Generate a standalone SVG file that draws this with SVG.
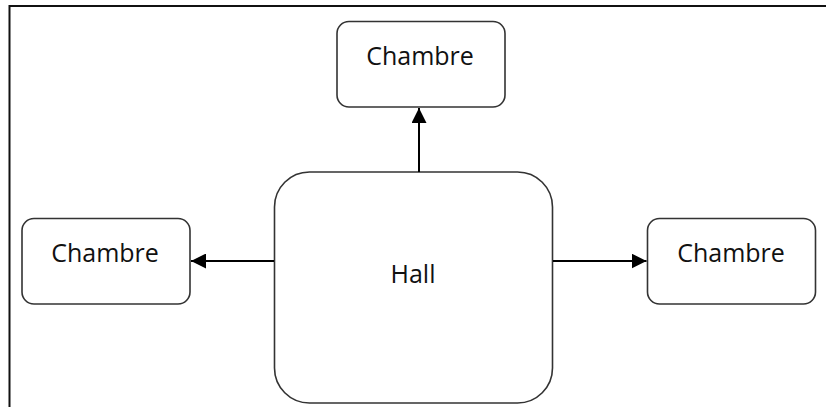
<svg xmlns="http://www.w3.org/2000/svg" width="826" height="407" viewBox="0 0 826 407">
<defs>
<style>
.box{fill:#fff;stroke:#333;stroke-width:1.6}
.lbl{font-family:"Open Sans","Noto Sans",sans-serif;font-size:25px;fill:#111;text-anchor:middle}
.conn{stroke:#000;stroke-width:2;fill:none}
</style>
<marker id="ah" viewBox="0 0 10 10" refX="10" refY="5" markerWidth="15" markerHeight="15" markerUnits="userSpaceOnUse" orient="auto">
<path d="M0,0 L10,5 L0,10 z" fill="#000"/>
</marker>
</defs>
<rect width="826" height="407" fill="#fff"/>
<path d="M9.5,407 V6 H826" fill="none" stroke="#111" stroke-width="2"/>
<g id="hall">
<rect class="box" x="274.5" y="172" width="278" height="231" rx="35" ry="35"/>
<text class="lbl" x="413" y="283">Hall</text>
</g>
<g id="chambre-top">
<rect class="box" x="337" y="21.5" width="168" height="85.5" rx="12" ry="12"/>
<text class="lbl" x="420" y="65">Chambre</text>
</g>
<g id="chambre-left">
<rect class="box" x="22" y="218.5" width="168" height="85.5" rx="12" ry="12"/>
<text class="lbl" x="105" y="262">Chambre</text>
</g>
<g id="chambre-right">
<rect class="box" x="647.5" y="218.5" width="168" height="85.5" rx="12" ry="12"/>
<text class="lbl" x="731" y="262">Chambre</text>
</g>
<g id="connectors">
<line class="conn" x1="419" y1="172" x2="419" y2="108" marker-end="url(#ah)"/>
<line class="conn" x1="274" y1="261" x2="191" y2="261" marker-end="url(#ah)"/>
<line class="conn" x1="553" y1="261" x2="646.5" y2="261" marker-end="url(#ah)"/>
</g>
</svg>
